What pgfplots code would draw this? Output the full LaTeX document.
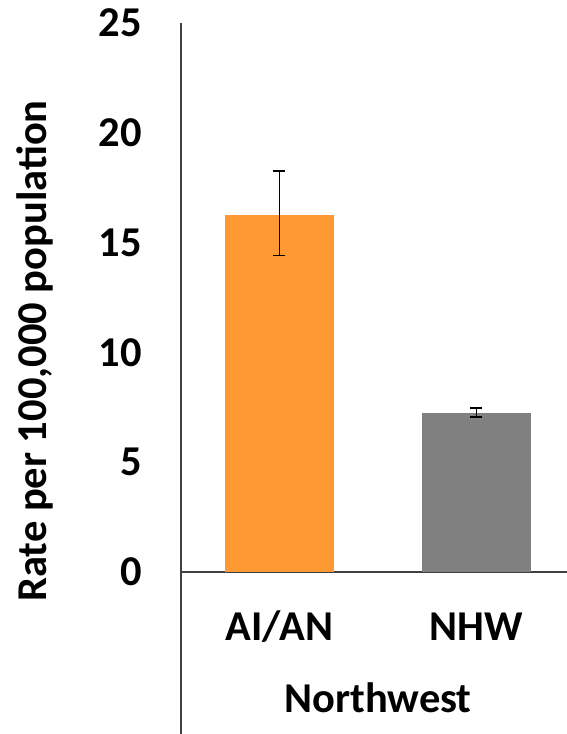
\documentclass[border=0pt]{standalone}
\usepackage{pgfplots}
\pgfplotsset{compat=1.18}
\usepackage{fontspec}
\setmainfont{Carlito}
\definecolor{orangebar}{HTML}{FF9933}
\definecolor{graybar}{HTML}{808080}
\definecolor{axisgray}{HTML}{404040}
\newcommand{\bigfont}{\bfseries\fontsize{42.5}{42.5}\selectfont}
\begin{document}
\begin{tikzpicture}[x=1pt,y=1pt]
\useasboundingbox (-181,-162) rectangle (386,572);
\begin{axis}[
  at={(0,0)}, anchor=south west,
  scale only axis, width=394pt, height=549pt,
  xmin=-0.5, xmax=1.5, ymin=0, ymax=25,
  axis lines*=left,
  axis line style={-, line width=1.3pt, color=axisgray},
  ytick={0,5,10,15,20,25},
  xtick={0,1},
  xticklabels={AI/AN,NHW},
  major tick length=0pt,
  /pgf/number format/assume math mode=true,
  yticklabel style={font=\bigfont, anchor=east, inner sep=0pt, xshift=-39pt},
  xticklabel style={font=\bigfont, anchor=base, inner sep=0pt, yshift=-68pt},
  clip=false,
]
\addplot[ybar, bar width=0.558, fill=orangebar, draw=none,
  error bars/.cd, y dir=both, y explicit,
  error bar style={line width=1.5pt, black},
  error mark options={rotate=90, mark size=6pt, line width=1.5pt, black}]
  coordinates {(0,16.26) += (0,2.0) -= (0,1.84)};
\addplot[ybar, bar width=0.558, fill=graybar, draw=none,
  error bars/.cd, y dir=both, y explicit,
  error bar style={line width=1.5pt, black},
  error mark options={rotate=90, mark size=6pt, line width=1.5pt, black}]
  coordinates {(1,7.24) += (0,0.23) -= (0,0.18)};
\node[font=\bigfont, anchor=base, inner sep=0pt] at (axis cs:0.5,0) [yshift=-140pt] {Northwest};
\end{axis}
\draw[line width=1.3pt, axisgray] (0,0) -- (0,-162);
\node[font=\bigfont, rotate=90, anchor=base, inner sep=0pt] at (-134,221) {Rate per 100,000 population};
\end{tikzpicture}
\end{document}
